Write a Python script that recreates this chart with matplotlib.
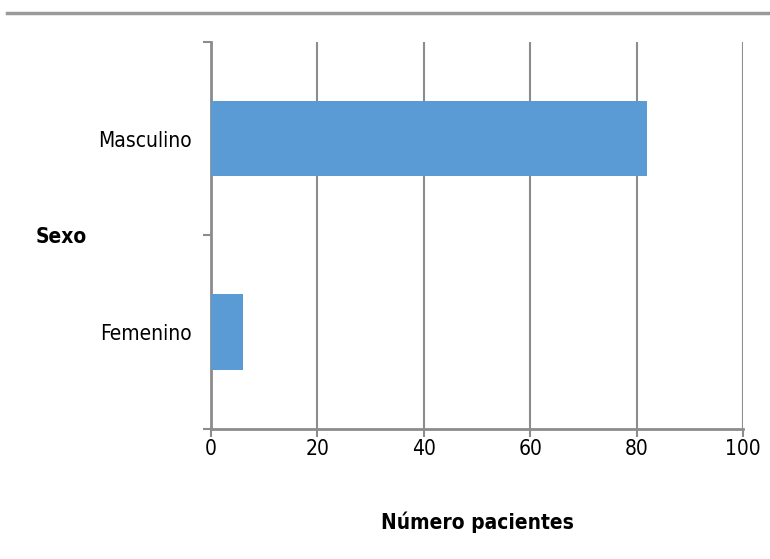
import matplotlib.pyplot as plt
from matplotlib.lines import Line2D
from matplotlib import font_manager

categories = ["Femenino", "Masculino"]
pacientes = [6, 82]
xticks = [0, 20, 40, 60, 80, 100]

names = {f.name for f in font_manager.fontManager.ttflist}
if "Liberation Sans Narrow" in names:
    plt.rcParams['font.family'] = ['Liberation Sans Narrow', 'DejaVu Sans']
else:
    plt.rcParams['font.family'] = ['DejaVu Sans']
    plt.rcParams['font.stretch'] = 'condensed'

grey = "#8c8c8c"
fs = 15
fig = plt.figure(figsize=(7.7, 5.59), dpi=100)
ax = fig.add_axes([0.274, 0.2326, 0.691, 0.6923])

ax.barh(range(len(categories)), pacientes, height=0.39, color="#5b9bd5", zorder=3)
ax.set_xlim(0, 100)
ax.set_ylim(-0.5, len(categories) - 0.5)
ax.set_xticks(xticks)
ax.set_yticks(range(len(categories)))
ax.set_yticklabels(categories)
ax.set_yticks([-0.5, 0.5, 1.5], minor=True)
ax.tick_params(axis='y', which='major', length=0, pad=14, labelsize=fs)
ax.tick_params(axis='y', which='minor', length=6, width=1.5, color=grey, direction='out')
ax.tick_params(axis='x', length=6, width=1.5, color=grey, pad=1, labelsize=fs)

ax.grid(axis='x', color=grey, linewidth=1.5, zorder=0)
for s in ['top', 'right']:
    ax.spines[s].set_visible(False)
for s in ['left', 'bottom']:
    ax.spines[s].set_color(grey)
    ax.spines[s].set_linewidth(2)

ax.set_xlabel("Número pacientes", fontsize=fs, fontweight='bold', labelpad=38)
fig.text(0.08, 0.576, "Sexo", fontsize=fs, fontweight='bold', va='center', ha='center')

# linea horizontal superior
fig.add_artist(Line2D([0.009, 1.0], [0.977, 0.977], color="#9a9a9a", linewidth=2.5))

fig.savefig("out.png", dpi=100)
